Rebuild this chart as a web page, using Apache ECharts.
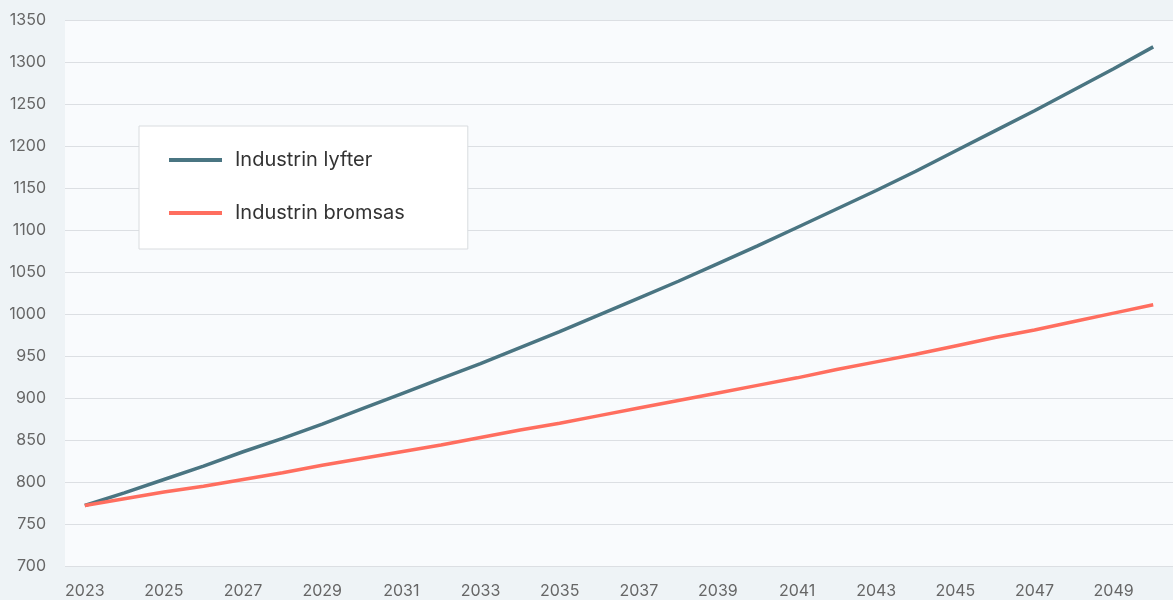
<!DOCTYPE html>
<html>
<head>
<meta charset="utf-8">
<style>
  html, body { margin: 0; padding: 0; background: #eef3f6; }
  #chart { width: 1173px; height: 600px; }
</style>
<script src="https://cdn.jsdelivr.net/npm/echarts@6/dist/echarts.min.js"></script>
</head>
<body>
<div id="chart"></div>
<script>
const years = ['2023', '2024', '2025', '2026', '2027', '2028', '2029', '2030', '2031', '2032',
  '2033', '2034', '2035', '2036', '2037', '2038', '2039', '2040', '2041', '2042',
  '2043', '2044', '2045', '2046', '2047', '2048', '2049', '2050']
const lyfter = [772, 787, 803, 819, 836, 852, 869, 887, 905, 923,
  941, 960, 979, 999, 1019, 1039, 1060, 1081, 1103, 1125,
  1147, 1170, 1194, 1218, 1242, 1267, 1292, 1318]
const bromsas = [772, 780, 788, 795, 803, 811, 820, 828, 836, 844,
  853, 862, 870, 879, 888, 897, 906, 915, 924, 934,
  943, 952, 962, 972, 981, 991, 1001, 1011]
const seriesNames = ['Industrin lyfter', 'Industrin bromsas']
const colors = ['#4a7582', '#ff6e5f']

const font = "Inter, sans-serif"
const chart = echarts.init(document.getElementById('chart'))

chart.setOption({
  backgroundColor: '#eef3f6',
  animation: false,
  color: colors,
  grid: {
    left: 65,
    right: 0,
    top: 20,
    bottom: 34,
    show: true,
    backgroundColor: '#f9fbfd',
    borderWidth: 0
  },
  legend: {
    orient: 'vertical',
    left: 139,
    top: 126,
    backgroundColor: '#ffffff',
    borderColor: '#d9dcdf',
    borderWidth: 1,
    borderRadius: 0,
    padding: [22, 63, 24, 30],
    itemGap: 29,
    itemWidth: 53,
    itemHeight: 4,
    icon: 'rect',
    textStyle: {
      fontFamily: font,
      fontSize: 20,
      color: '#333333',
      lineHeight: 24,
      padding: [0, 0, 0, 8]
    },
    data: seriesNames
  },
  xAxis: {
    type: 'category',
    data: years,
    boundaryGap: true,
    axisLine: { show: false },
    axisTick: { show: false },
    splitLine: { show: false },
    axisLabel: {
      interval: 1,
      margin: 17,
      fontFamily: font,
      fontSize: 16,
      color: '#666666'
    }
  },
  yAxis: {
    type: 'value',
    min: 700,
    max: 1350,
    interval: 50,
    axisLine: { show: false },
    axisTick: { show: false },
    splitLine: { lineStyle: { color: '#dcdfe3', width: 1 } },
    axisLabel: {
      margin: 19,
      fontFamily: font,
      fontSize: 16,
      color: '#666666',
      formatter: (v) => String(v)
    }
  },
  series: [
    {
      name: seriesNames[0],
      type: 'line',
      data: lyfter,
      showSymbol: false,
      lineStyle: { width: 3.5, color: colors[0] }
    },
    {
      name: seriesNames[1],
      type: 'line',
      data: bromsas,
      showSymbol: false,
      lineStyle: { width: 3.5, color: colors[1] }
    }
  ]
})
</script>
</body>
</html>
